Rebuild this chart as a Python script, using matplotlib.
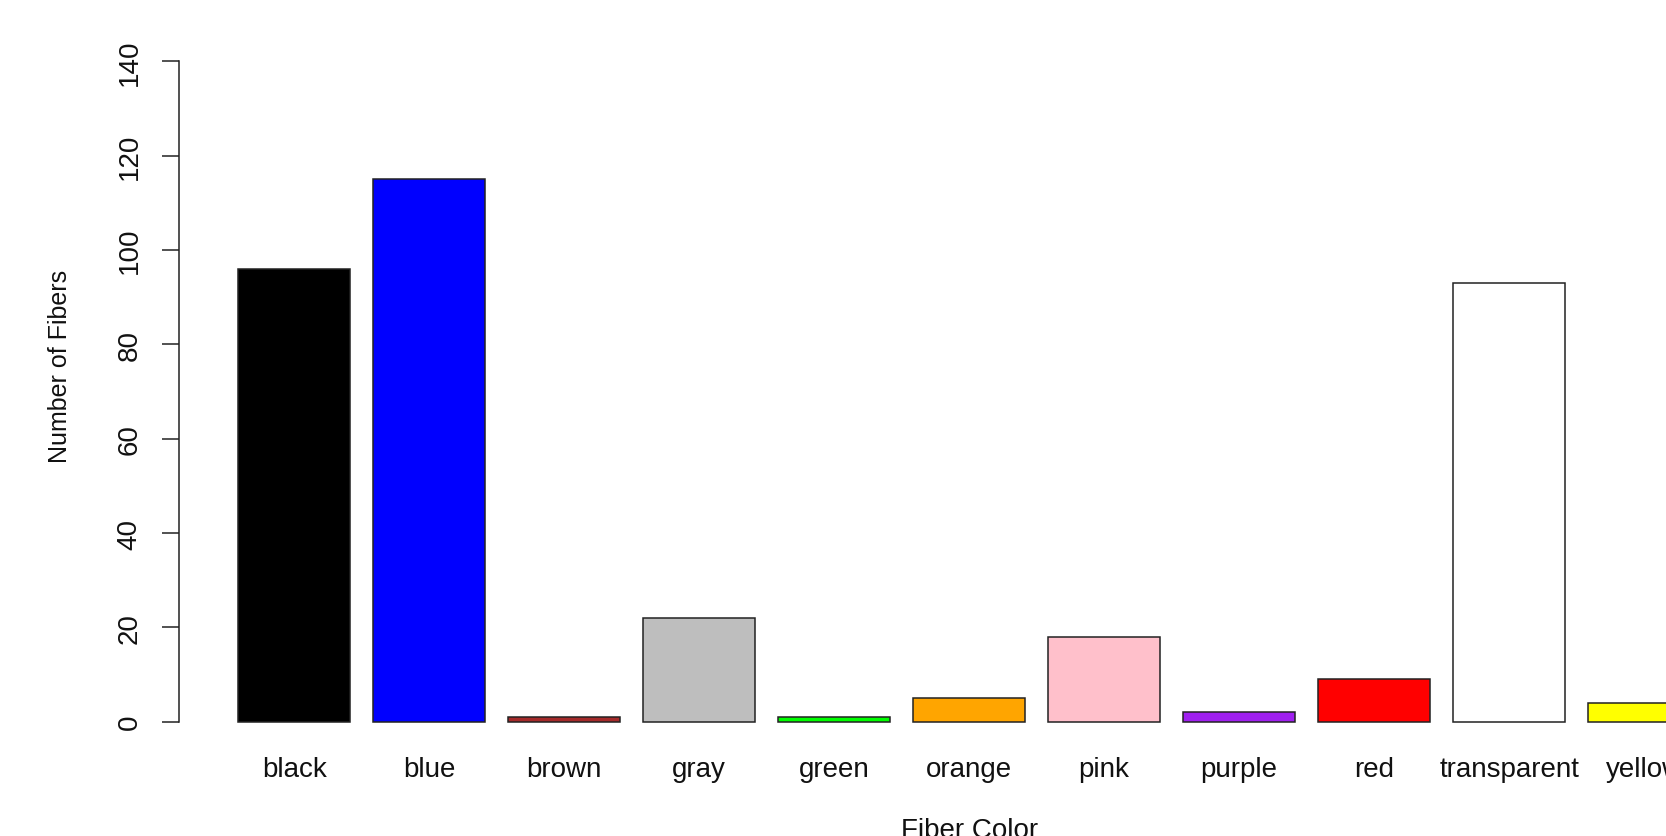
import numpy as np
import matplotlib
matplotlib.use("Agg")
import matplotlib.pyplot as plt

plt.rcParams['font.family'] = ['Liberation Sans', 'DejaVu Sans']

# fiber counts by colour
fiber_colors = ["black", "blue", "brown", "gray", "green", "orange",
                "pink", "purple", "red", "transparent", "yellow"]
fiber_counts = [96, 115, 1, 22, 1, 5, 18, 2, 9, 93, 4]
bar_fills = ["#000000", "#0000FF", "#A52A2A", "#BEBEBE", "#00FF00", "#FFA500",
             "#FFC0CB", "#A020F0", "#FF0000", "#FFFFFF", "#FFFF00"]
y_ticks = [0, 20, 40, 60, 80, 100, 120, 140]

fig = plt.figure(figsize=(16.66, 8.37), dpi=100)
# R-style plot region, partly running past the right/top edge of the image
ax = fig.add_axes([0.1077, 0.1027, 0.9481, 0.9131])

# barplot layout: width 1, space 0.2
x = 0.7 + 1.2 * np.arange(len(fiber_colors))
ax.bar(x, fiber_counts, width=1.0, color=bar_fills,
       edgecolor="#222222", linewidth=1.1)

ax.set_xlim(-0.32, 13.72)
ax.set_ylim(-6, 156)

for side in ["top", "right", "bottom"]:
    ax.spines[side].set_visible(False)
ax.spines["left"].set_bounds(0, 140)
ax.spines["left"].set_linewidth(1.1)
ax.spines["left"].set_color("#222222")

ax.set_yticks(y_ticks)
ax.set_yticklabels([str(v) for v in y_ticks], rotation=90, va="center",
                   fontsize=20, color="#111111")
ax.tick_params(axis="y", length=12.5, width=1.1, color="#222222", pad=14)

ax.set_xticks(x)
ax.set_xticklabels(fiber_colors, fontsize=20, color="#111111")
ax.tick_params(axis="x", length=0, pad=4)

ax.set_xlabel("Fiber Color", fontsize=20, color="#111111")
ax.xaxis.set_label_coords(0.5, -0.087)
fig.text(60 / 1666, 1 - 366 / 837, "Number of Fibers", rotation=90,
         ha="center", va="center", fontsize=18, color="#111111")

fig.savefig("out.png", dpi=100)
